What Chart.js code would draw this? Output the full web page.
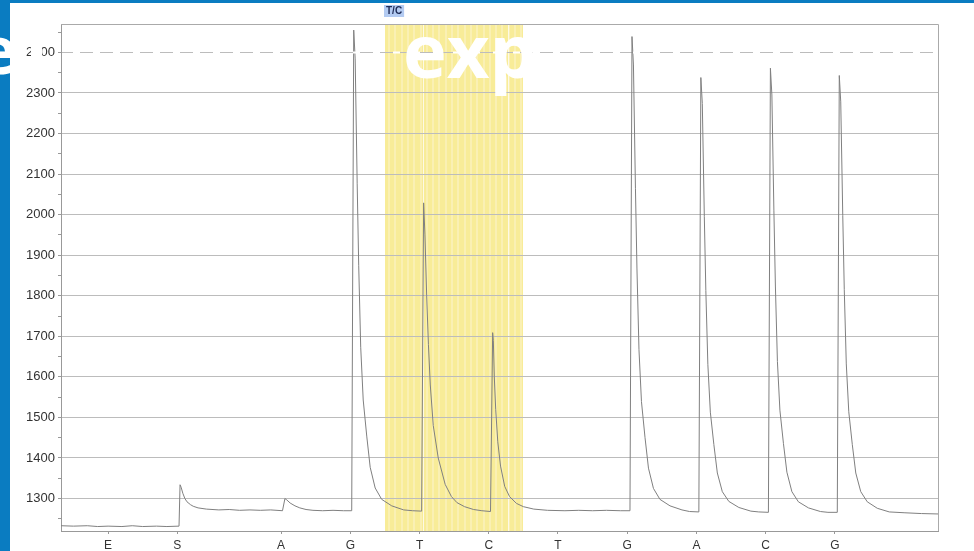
<!DOCTYPE html>
<html lang="en">
<head>
<meta charset="UTF-8" />
<script src="https://cdn.jsdelivr.net/npm/chart.js"></script>
<title>Pyrogram</title>
<style>
  body { margin: 0; background: #fff; }
  canvas { display: block; }
</style>
</head>
<body>
<canvas id="pyrogram" width="974" height="551"></canvas>
<script>
// dispensation order and where each one sits on the x axis
var dispensations = ['E', 'S', 'A', 'G', 'T', 'C', 'T', 'G', 'A', 'C', 'G'];
var dispensationPos = [1, 2, 3.5, 4.5, 5.5, 6.5, 7.5, 8.5, 9.5, 10.5, 11.5];

// y ticks every 50, labels only on the hundreds
var yTicks = [1250, 1300, 1350, 1400, 1450, 1500, 1550, 1600, 1650, 1700, 1750, 1800,
  1850, 1900, 1950, 2000, 2050, 2100, 2150, 2200, 2250, 2300, 2350, 2400, 2450];

// variable position T/C (highlighted)
var snpLabel = 'T/C';
var snpRange = [5.0, 7.0];
var snpLines = [5.554, 6.773];

// light signal
var traceX = [
  // E
  0.32, 0.5, 0.7, 0.85, 1.0, 1.2, 1.35, 1.5, 1.7, 1.85, 2.025,
  // S
  2.04, 2.055, 2.08, 2.11, 2.14, 2.19, 2.23, 2.3, 2.42, 2.6, 2.75, 2.9, 3.05, 3.2, 3.35, 3.52,
  // A
  3.555, 3.58, 3.63, 3.7, 3.77, 3.86, 3.96, 4.1, 4.25, 4.4, 4.52,
  // G
  4.549, 4.57, 4.599, 4.621, 4.65, 4.686, 4.737, 4.787, 4.859, 4.953, 5.098, 5.271, 5.4, 5.53,
  // T
  5.559, 5.578, 5.603, 5.628, 5.655, 5.698, 5.77, 5.87, 5.96, 6.04, 6.15, 6.28, 6.4, 6.525,
  // C
  6.556, 6.566, 6.58, 6.6, 6.63, 6.67, 6.73, 6.8, 6.9, 7.0, 7.15, 7.35, 7.6, 7.8, 8.0, 8.2, 8.4, 8.54,
  // G
  8.569, 8.59, 8.619, 8.641, 8.67, 8.706, 8.757, 8.807, 8.879, 8.973, 9.118, 9.291, 9.4, 9.535,
  // A
  9.564, 9.585, 9.614, 9.636, 9.665, 9.701, 9.752, 9.802, 9.874, 9.968, 10.113, 10.286, 10.4, 10.54,
  // C
  10.569, 10.59, 10.619, 10.641, 10.67, 10.706, 10.757, 10.807, 10.879, 10.973, 11.118, 11.291, 11.4, 11.535,
  // G
  11.564, 11.585, 11.614, 11.636, 11.665, 11.701, 11.752, 11.802, 11.874, 11.968, 12.113, 12.286, 12.5, 12.75, 12.99
];
var traceY = [
  1233, 1232, 1233, 1231, 1232, 1231, 1233, 1231, 1232, 1231, 1232,
  1334, 1328, 1313, 1300, 1292, 1285, 1281, 1277, 1274, 1272, 1273, 1271, 1272, 1271, 1272, 1270,
  1300, 1297, 1289, 1282, 1277, 1273, 1271, 1270, 1271, 1270, 1270,
  2455, 2384, 2076, 1874, 1673, 1543, 1454, 1377, 1326, 1298, 1282, 1272, 1270, 1269,
  2029, 1950, 1800, 1680, 1580, 1480, 1400, 1335, 1305, 1290, 1280, 1273, 1270, 1268,
  1709, 1690, 1600, 1520, 1440, 1380, 1330, 1305, 1288, 1280, 1274, 1271, 1270, 1271, 1270, 1271, 1270, 1270,
  2439, 2369, 2065, 1866, 1667, 1539, 1451, 1375, 1325, 1298, 1282, 1272, 1268, 1267,
  2338, 2274, 1995, 1813, 1631, 1513, 1433, 1363, 1317, 1293, 1278, 1269, 1267, 1266,
  2361, 2295, 2011, 1824, 1638, 1518, 1436, 1365, 1317, 1292, 1277, 1268, 1266, 1266,
  2343, 2278, 1998, 1815, 1632, 1514, 1433, 1363, 1317, 1292, 1276, 1267, 1265, 1263, 1262
];

var points = traceX.map(function (x, i) { return { x: x, y: traceY[i] }; });

var pyroPlugin = {
  id: 'pyroPlugin',
  beforeDraw: function (chart) {
    var ctx = chart.ctx, a = chart.chartArea, x = chart.scales.x;
    ctx.save();
    ctx.fillStyle = '#fff';
    ctx.fillRect(0, 0, chart.width, chart.height);
    // yellow band for the SNP
    var x0 = Math.round(x.getPixelForValue(snpRange[0]));
    var x1 = Math.round(x.getPixelForValue(snpRange[1]));
    ctx.fillStyle = '#f8ec98';
    ctx.fillRect(x0, a.top, x1 - x0, a.bottom - a.top);
    ctx.fillStyle = '#faf0b4';
    for (var s = x0 + 3; s < x1 - 2; s += 6.3) {
      ctx.fillRect(Math.round(s), a.top, 2, a.bottom - a.top);
    }
    ctx.fillStyle = '#fdf9e6';
    snpLines.forEach(function (v) {
      ctx.fillRect(Math.round(x.getPixelForValue(v)), a.top, 1, a.bottom - a.top);
    });
    ctx.restore();
  },
  afterDraw: function (chart) {
    var ctx = chart.ctx, a = chart.chartArea, x = chart.scales.x, y = chart.scales.y;
    ctx.save();
    // frame top + right
    ctx.strokeStyle = '#aaa';
    ctx.lineWidth = 1;
    ctx.beginPath();
    ctx.moveTo(a.left, a.top + 0.5);
    ctx.lineTo(a.right + 0.5, a.top + 0.5);
    ctx.lineTo(a.right + 0.5, a.bottom);
    ctx.stroke();

    // T/C tag above the band
    var bx = Math.round(x.getPixelForValue(snpRange[0]));
    ctx.font = 'bold 10px "Liberation Sans", Arial, sans-serif';
    var tw = ctx.measureText(snpLabel).width;
    ctx.fillStyle = '#b3cbf2';
    ctx.fillRect(bx - 1, 5, tw + 4, 12);
    ctx.fillStyle = '#1d2a55';
    ctx.textBaseline = 'middle';
    ctx.fillText(snpLabel, bx + 1, 11.5);

    // white slide title bleeding over the chart
    var gy = Math.round(y.getPixelForValue(2400)) + 0.5;
    ctx.strokeStyle = '#fff';
    ctx.lineWidth = 2;
    ctx.setLineDash([7, 13]);
    ctx.beginPath();
    ctx.moveTo(a.left + 12, gy);
    ctx.lineTo(a.right, gy);
    ctx.stroke();
    ctx.setLineDash([]);
    ctx.fillStyle = '#fff';
    ctx.fillRect(31, 45, 11, 13);
    ctx.font = 'bold 74px "Open Sans", sans-serif';
    ctx.textBaseline = 'alphabetic';
    ctx.fillText('exp', 403, 78);

    // blue slide frame
    ctx.fillStyle = '#0a7cc1';
    ctx.fillRect(0, 0, 10, chart.height);
    ctx.fillRect(0, 0, chart.width, 3);
    ctx.fillStyle = '#fff';
    ctx.font = 'bold 66px "Open Sans", sans-serif';
    ctx.fillText('e', -22, 74);
    ctx.restore();
  }
};

new Chart(document.getElementById('pyrogram'), {
  type: 'line',
  data: {
    datasets: [{
      data: points,
      borderColor: '#808080',
      borderWidth: 1,
      pointRadius: 0,
      tension: 0,
      fill: false
    }]
  },
  options: {
    responsive: false,
    devicePixelRatio: 1,
    animation: false,
    layout: { padding: { left: 0, right: 36, top: 24, bottom: 0 } },
    plugins: { legend: { display: false }, tooltip: { enabled: false } },
    scales: {
      x: {
        type: 'linear',
        min: 0.32,
        max: 12.99,
        afterBuildTicks: function (scale) {
          scale.ticks = dispensationPos.map(function (v) { return { value: v }; });
        },
        afterFit: function (scale) { scale.height = 20; },
        ticks: {
          autoSkip: false,
          maxRotation: 0,
          padding: 4,
          color: '#333',
          font: { family: '"Liberation Sans", Arial, sans-serif', size: 12 },
          callback: function (v, i) { return dispensations[i]; }
        },
        grid: { drawOnChartArea: false, tickLength: 3, tickColor: '#999' },
        border: { color: '#999' }
      },
      y: {
        type: 'linear',
        min: 1220,
        max: 2470,
        afterBuildTicks: function (scale) {
          scale.ticks = yTicks.map(function (v) { return { value: v }; });
        },
        afterFit: function (scale) { scale.width = 61; },
        ticks: {
          autoSkip: false,
          padding: 3,
          color: '#333',
          font: { family: '"Liberation Sans", Arial, sans-serif', size: 13 },
          callback: function (v) { return v % 100 === 0 ? String(v) : ''; }
        },
        grid: {
          tickLength: 3,
          color: function (c) { return c.tick && c.tick.value % 100 === 0 ? '#bcbcbc' : 'rgba(0,0,0,0)'; },
          tickColor: '#999'
        },
        border: { color: '#999' }
      }
    }
  },
  plugins: [pyroPlugin]
});
</script>
</body>
</html>
